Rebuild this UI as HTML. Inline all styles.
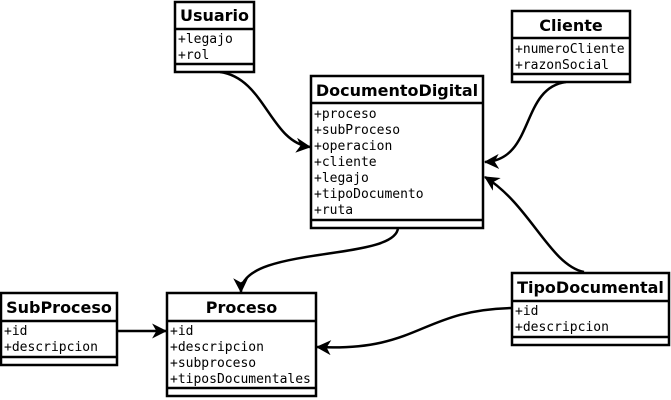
<!DOCTYPE html>
<html><head><meta charset="utf-8"><style>
html,body{margin:0;padding:0;background:#fff;}
svg{display:block;}
</style></head><body>
<svg width="671" height="400" viewBox="0 0 671 400" xmlns="http://www.w3.org/2000/svg">
<defs>
<marker id="m" viewBox="0 0 14 14" refX="13" refY="7" markerWidth="15" markerHeight="15" markerUnits="userSpaceOnUse" orient="auto">
<path d="M0,0 L14,7 L0,14 L4,7 Z" fill="#000"/>
</marker>
</defs>
<g fill="none" stroke="#000" stroke-width="2.5">
<path d="M220,72 C265,78 270,142 310,147" marker-end="url(#m)"/>
<path d="M566,82 C520,88 535,160 485,162" marker-end="url(#m)"/>
<path d="M584,272 C550,265 530,205 485,177" marker-end="url(#m)"/>
<path d="M398,228 C395,262 240,245 241,292" marker-end="url(#m)"/>
<path d="M117,331 L166,331" marker-end="url(#m)"/>
<path d="M512,308 C420,310 420,352 317,347" marker-end="url(#m)"/>
</g>
<g fill="#fff" stroke="#000" stroke-width="2.5">
<rect x="175" y="2" width="79" height="70"/>
<line x1="175" y1="29" x2="254" y2="29"/><line x1="175" y1="64" x2="254" y2="64"/>
<rect x="311" y="76" width="172" height="152"/>
<line x1="311" y1="103" x2="483" y2="103"/><line x1="311" y1="220" x2="483" y2="220"/>
<rect x="512" y="11" width="118" height="71"/>
<line x1="512" y1="38" x2="630" y2="38"/><line x1="512" y1="74" x2="630" y2="74"/>
<rect x="512" y="273" width="157" height="72"/>
<line x1="512" y1="301" x2="669" y2="301"/><line x1="512" y1="337" x2="669" y2="337"/>
<rect x="1" y="293" width="116" height="72"/>
<line x1="1" y1="321" x2="117" y2="321"/><line x1="1" y1="357" x2="117" y2="357"/>
<rect x="167" y="293" width="149" height="103"/>
<line x1="167" y1="321" x2="316" y2="321"/><line x1="167" y1="388" x2="316" y2="388"/>
</g>
<g fill="#000" font-family="DejaVu Sans, Liberation Sans, sans-serif" font-weight="bold" font-size="16" text-anchor="middle">
<text x="214.5" y="21">Usuario</text>
<text x="397" y="96">DocumentoDigital</text>
<text x="571" y="31">Cliente</text>
<text x="590.5" y="293">TipoDocumental</text>
<text x="59" y="313">SubProceso</text>
<text x="241.5" y="313">Proceso</text>
</g>
<g fill="#000" font-family="DejaVu Sans Mono, Liberation Mono, monospace" font-size="13">
<text x="178" y="43">+legajo</text>
<text x="178" y="59">+rol</text>
<text x="314" y="118">+proceso</text>
<text x="314" y="134">+subProceso</text>
<text x="314" y="150">+operacion</text>
<text x="314" y="166">+cliente</text>
<text x="314" y="182">+legajo</text>
<text x="314" y="198">+tipoDocumento</text>
<text x="314" y="214">+ruta</text>
<text x="515" y="53">+numeroCliente</text>
<text x="515" y="69">+razonSocial</text>
<text x="515" y="315">+id</text>
<text x="515" y="331">+descripcion</text>
<text x="4" y="335">+id</text>
<text x="4" y="351">+descripcion</text>
<text x="170" y="335">+id</text>
<text x="170" y="351">+descripcion</text>
<text x="170" y="367">+subproceso</text>
<text x="170" y="383">+tiposDocumentales</text>
</g>
</svg>
</body></html>
